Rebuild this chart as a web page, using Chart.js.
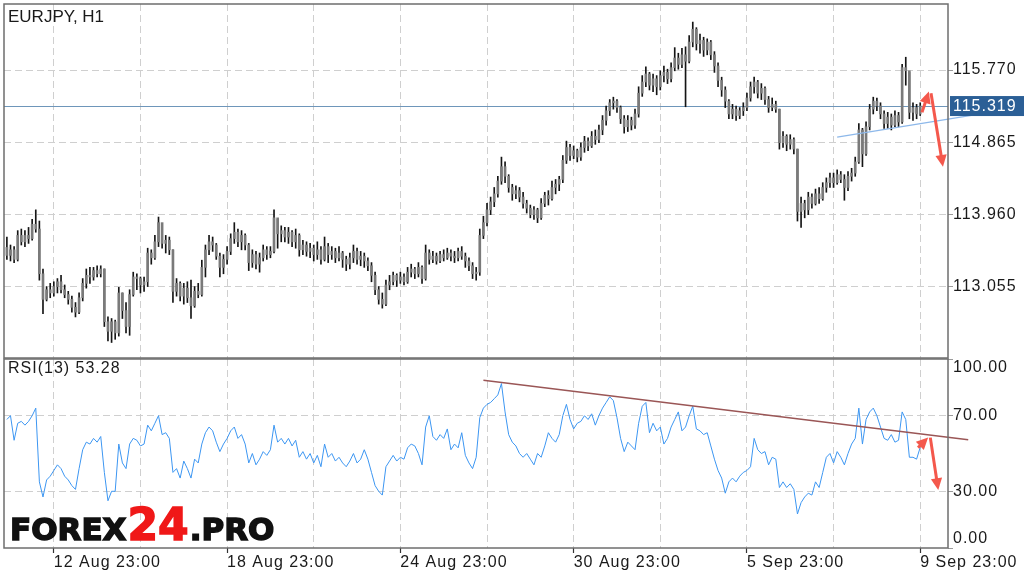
<!DOCTYPE html>
<html>
<head>
<meta charset="utf-8">
<script src="https://cdn.jsdelivr.net/npm/chart.js@4.4.1/dist/chart.umd.min.js"></script>
<style>
  html, body { margin: 0; padding: 0; background: #fff; }
  #wrap { position: relative; width: 1024px; height: 577px; overflow: hidden; }
  .box { position: absolute; left: 0; width: 1024px; }
  #pricebox { top: 0; height: 360px; }
  #rsibox { top: 355px; height: 222px; }
</style>
</head>
<body>
<div id="wrap">
  <div class="box" id="pricebox"><canvas id="price"></canvas></div>
  <div class="box" id="rsibox"><canvas id="rsi"></canvas></div>
</div>
<script>
// ===== EURJPY H1 bars (oldest first) =====
const firstOpen = 113.55;
const closes = [
  113.45, 113.52, 113.40, 113.70, 113.62, 113.70, 113.66, 113.84, 113.78, 113.22,
  112.90, 113.02, 112.98, 113.06, 113.12, 113.02, 112.96, 112.90, 112.80, 112.74,
  112.92, 113.10, 113.20, 113.18, 113.26, 113.22, 113.28, 112.62, 112.50, 112.62,
  112.48, 112.98, 112.76, 112.56, 112.96, 113.18, 113.16, 113.08, 113.12, 113.48,
  113.42, 113.62, 113.86, 113.60, 113.64, 113.52, 113.00, 113.10, 112.94, 113.04,
  112.92, 112.82, 113.00, 112.96, 113.30, 113.52, 113.62, 113.58, 113.44, 113.30,
  113.40, 113.50, 113.66, 113.74, 113.62, 113.70, 113.58, 113.36, 113.46, 113.34,
  113.42, 113.52, 113.46, 113.50, 113.92, 113.72, 113.76, 113.68, 113.74, 113.62,
  113.70, 113.52, 113.58, 113.50, 113.54, 113.46, 113.52, 113.40, 113.56, 113.46,
  113.50, 113.42, 113.48, 113.40, 113.34, 113.42, 113.50, 113.40, 113.44, 113.38,
  113.32, 113.20, 113.02, 112.90, 112.84, 113.08, 113.12, 113.20, 113.14, 113.18,
  113.12, 113.24, 113.28, 113.22, 113.30, 113.16, 113.48, 113.40, 113.44, 113.38,
  113.46, 113.42, 113.48, 113.44, 113.42, 113.50, 113.44, 113.38, 113.32, 113.22,
  113.24, 113.70, 113.86, 114.02, 114.12, 114.22, 114.38, 114.56, 114.44, 114.30,
  114.22, 114.26, 114.18, 114.10, 114.04, 113.96, 114.02, 113.92, 114.10, 114.20,
  114.16, 114.30, 114.34, 114.40, 114.64, 114.80, 114.70, 114.76, 114.68, 114.80,
  114.88, 114.82, 114.94, 114.90, 115.02, 115.14, 115.26, 115.36, 115.38, 115.30,
  115.16, 115.06, 115.14, 115.08, 115.22, 115.48, 115.62, 115.72, 115.58, 115.66,
  115.56, 115.70, 115.74, 115.66, 115.80, 115.92, 115.84, 115.96, 115.88, 116.12,
  116.28, 116.10, 116.14, 116.02, 116.12, 115.96, 115.82, 115.64, 115.52, 115.38,
  115.22, 115.28, 115.20, 115.26, 115.30, 115.42, 115.56, 115.62, 115.48, 115.54,
  115.40, 115.30, 115.34, 115.28, 114.86, 114.94, 114.84, 114.90, 114.78, 114.00,
  114.10, 114.02, 114.18, 114.10, 114.22, 114.16, 114.30, 114.36, 114.42, 114.36,
  114.46, 114.40, 114.30, 114.44, 114.48, 114.62, 115.02, 114.72, 115.06, 115.28,
  115.38, 115.32, 115.22, 115.10, 115.18, 115.08, 115.20, 115.12, 115.80, 115.76,
  115.24, 115.30, 115.22, 115.32
];
const highs = [
  113.68, 113.58, 113.56, 113.76, 113.78, 113.76, 113.80, 113.90, 114.02, 113.88,
  113.28, 113.06, 113.10, 113.12, 113.16, 113.20, 113.08, 113.00, 112.94, 112.86,
  112.98, 113.16, 113.28, 113.30, 113.30, 113.32, 113.32, 113.28, 112.68, 112.66,
  112.64, 113.05, 112.98, 112.86, 113.02, 113.24, 113.22, 113.18, 113.18, 113.54,
  113.52, 113.70, 113.93, 113.84, 113.70, 113.68, 113.52, 113.16, 113.12, 113.10,
  113.12, 113.14, 113.06, 113.10, 113.39, 113.58, 113.70, 113.68, 113.60, 113.48,
  113.46, 113.56, 113.72, 113.86, 113.78, 113.76, 113.72, 113.60, 113.52, 113.50,
  113.48, 113.58, 113.56, 113.56, 114.02, 113.90, 113.82, 113.80, 113.80, 113.76,
  113.78, 113.72, 113.64, 113.62, 113.60, 113.58, 113.62, 113.56, 113.68, 113.60,
  113.56, 113.54, 113.56, 113.50, 113.44, 113.48, 113.58, 113.54, 113.50, 113.48,
  113.42, 113.36, 113.24, 113.06, 112.98, 113.14, 113.20, 113.24, 113.22, 113.24,
  113.22, 113.30, 113.34, 113.30, 113.36, 113.32, 113.58, 113.52, 113.50, 113.48,
  113.50, 113.52, 113.54, 113.52, 113.50, 113.54, 113.56, 113.48, 113.42, 113.36,
  113.30, 113.78, 113.94, 114.10, 114.18, 114.30, 114.44, 114.68, 114.62, 114.46,
  114.34, 114.32, 114.30, 114.24, 114.14, 114.08, 114.06, 114.04, 114.16, 114.24,
  114.26, 114.38, 114.40, 114.44, 114.70, 114.88, 114.84, 114.82, 114.78, 114.86,
  114.94, 114.92, 115.00, 115.02, 115.08, 115.20, 115.32, 115.40, 115.43, 115.40,
  115.32, 115.20, 115.20, 115.18, 115.28, 115.56, 115.70, 115.81, 115.74, 115.72,
  115.70, 115.76, 115.82, 115.78, 115.86, 116.05, 115.98, 116.04, 116.06, 116.20,
  116.37, 116.30, 116.22, 116.18, 116.16, 116.14, 116.00, 115.86, 115.68, 115.56,
  115.40, 115.34, 115.32, 115.30, 115.36, 115.48, 115.62, 115.68, 115.64, 115.60,
  115.56, 115.44, 115.42, 115.38, 115.28, 115.00, 114.96, 114.96, 114.92, 114.78,
  114.18, 114.14, 114.24, 114.22, 114.28, 114.30, 114.36, 114.42, 114.48, 114.48,
  114.52, 114.50, 114.46, 114.50, 114.54, 114.68, 115.10, 115.04, 115.12, 115.34,
  115.43, 115.42, 115.36, 115.26, 115.24, 115.22, 115.26, 115.24, 115.84, 115.93,
  115.74, 115.36, 115.34, 115.36
];
const lows = [
  113.40, 113.38, 113.36, 113.38, 113.58, 113.56, 113.60, 113.64, 113.74, 113.14,
  112.72, 112.88, 112.92, 112.94, 112.98, 112.98, 112.92, 112.84, 112.74, 112.68,
  112.72, 112.88, 113.04, 113.10, 113.14, 113.18, 113.18, 112.56, 112.38, 112.36,
  112.40, 112.44, 112.66, 112.48, 112.45, 112.94, 113.02, 112.98, 113.00, 113.06,
  113.34, 113.40, 113.56, 113.54, 113.48, 113.46, 112.86, 112.94, 112.88, 112.84,
  112.86, 112.66, 112.80, 112.92, 112.94, 113.18, 113.46, 113.50, 113.40, 113.18,
  113.22, 113.34, 113.46, 113.60, 113.56, 113.52, 113.52, 113.26, 113.30, 113.28,
  113.24, 113.38, 113.40, 113.42, 113.48, 113.54, 113.62, 113.62, 113.60, 113.56,
  113.54, 113.44, 113.46, 113.44, 113.42, 113.38, 113.40, 113.34, 113.38, 113.36,
  113.40, 113.36, 113.38, 113.30, 113.26, 113.28, 113.36, 113.34, 113.32, 113.30,
  113.26, 113.12, 112.96, 112.84, 112.79, 112.82, 113.02, 113.08, 113.06, 113.10,
  113.08, 113.10, 113.18, 113.16, 113.18, 113.10, 113.14, 113.34, 113.36, 113.34,
  113.36, 113.38, 113.40, 113.38, 113.36, 113.38, 113.40, 113.30, 113.26, 113.16,
  113.14, 113.20, 113.66, 113.82, 113.96, 114.06, 114.18, 114.34, 114.36, 114.24,
  114.14, 114.16, 114.12, 114.04, 113.98, 113.92, 113.90, 113.86, 113.90, 114.06,
  114.08, 114.14, 114.22, 114.26, 114.36, 114.60, 114.64, 114.66, 114.62, 114.64,
  114.74, 114.76, 114.80, 114.84, 114.86, 114.96, 115.08, 115.20, 115.28, 115.24,
  115.10, 114.98, 115.00, 115.02, 115.04, 115.18, 115.44, 115.56, 115.52, 115.50,
  115.46, 115.52, 115.62, 115.60, 115.62, 115.76, 115.78, 115.80, 115.31, 115.86,
  116.06, 116.02, 115.98, 115.94, 115.96, 115.90, 115.74, 115.56, 115.44, 115.30,
  115.16, 115.16, 115.14, 115.16, 115.20, 115.26, 115.38, 115.48, 115.42, 115.40,
  115.34, 115.24, 115.26, 115.24, 114.78, 114.80, 114.76, 114.78, 114.72, 113.88,
  113.80, 113.92, 113.96, 114.04, 114.08, 114.10, 114.14, 114.24, 114.30, 114.30,
  114.34, 114.36, 114.14, 114.26, 114.38, 114.44, 114.60, 114.56, 114.70, 115.02,
  115.22, 115.26, 115.16, 115.04, 115.04, 115.02, 115.06, 115.06, 115.10, 115.58,
  115.16, 115.14, 115.16, 115.20
];
const rsi13 = [
  68, 70, 57, 66, 67, 65, 67, 70, 74, 35,
  27, 36, 38, 41, 44, 42, 38, 36, 33, 31,
  42, 52, 56, 55, 58, 56, 59, 40, 25, 30,
  30, 55, 45, 42, 55, 58, 57, 54, 55, 65,
  62, 66, 70, 60, 61, 58, 40, 42, 37, 46,
  42, 37, 47, 45, 55, 61, 64, 62, 56, 51,
  55, 58, 62, 64, 58, 60, 55, 45, 50, 44,
  47, 51, 49, 52, 65, 56, 58, 55, 58, 54,
  57, 48, 51, 47, 50, 45, 49, 43, 55, 48,
  50, 46, 48, 45, 43, 46, 50, 45, 47, 52,
  47, 40, 33, 30, 28, 43, 46, 49, 46, 48,
  47, 53, 55, 54, 50, 44, 64, 70, 59, 57,
  60, 58, 63, 52, 55, 53, 61, 49, 45, 42,
  48, 69, 74, 76, 77, 79, 81, 87, 72, 60,
  56, 54, 50, 48, 50, 47, 44, 50, 48, 54,
  61, 58, 56, 60, 70, 76, 68, 63, 66, 67,
  70, 68, 71, 65, 70, 74, 77, 80, 78, 69,
  58, 51, 56, 54, 52, 66, 75, 77, 61, 66,
  62, 64, 55, 58, 64, 68, 72, 62, 64, 70,
  75, 63, 62, 60, 61, 54, 47, 41, 37, 29,
  35, 37, 35, 38, 40, 41, 43, 58, 52, 50,
  51, 44, 48, 47, 32, 35, 32, 34, 31, 18,
  24, 27, 29, 28, 35, 32, 40, 48, 50, 45,
  51, 48, 44, 50, 55, 58, 74, 55, 68, 72,
  74, 70, 64, 58, 57, 60, 56, 57, 72, 68,
  48, 48, 47, 53.28
];

const lastPrice = 115.319;
const priceMin = 112.166, priceMax = 116.596;
const priceTicks = [113.055, 113.960, 114.865, 115.770];
const rsiTicks = [0, 30, 70, 100];
const gridIdx = [13, 37, 61, 85, 109, 133, 157, 181, 205, 229, 253];
const xLabelIdx = [13, 61, 109, 157, 205, 253];
const xLabels = ['12 Aug 23:00', '18 Aug 23:00', '24 Aug 23:00', '30 Aug 23:00', '5 Sep 23:00', '9 Sep 23:00'];
const xMin = -0.8, xMax = 260.7;

// trend lines + arrows, in (bar index, value)
const priceTrend = [{ x: 230, y: 114.93 }, { x: 271, y: 115.23 }];
const rsiTrend = [{ x: 132, y: 88.8 }, { x: 266.3, y: 57.3 }];
const priceArrows = [[253.5, 115.24, 255.4, 115.50], [256, 115.48, 259.3, 114.56]];
const rsiArrows = [[252.4, 53.1, 255.2, 58.4], [255.8, 58.4, 258, 30.7]];

// ===== build datasets =====
const opens = closes.map((c, i) => i === 0 ? firstOpen : closes[i - 1]);
const wickData = closes.map((c, i) => ({ x: i, y: [lows[i], highs[i]] }));
const bodyData = closes.map((c, i) => ({ x: i, y: [opens[i], c] }));
const rsiData = rsi13.map((v, i) => ({ x: i, y: v }));

Chart.defaults.font.family = "'Liberation Sans', Arial, sans-serif";
Chart.defaults.font.size = 16;
Chart.defaults.color = '#1a1a1a';

const gridColor = '#cfcfcf';
const dash = [7, 4];
const frameColor = '#6e6e6e';

function drawArrow(ctx, x1, y1, x2, y2) {
  const a = Math.atan2(y2 - y1, x2 - x1);
  const head = 13;
  ctx.save();
  ctx.strokeStyle = '#f4584c';
  ctx.fillStyle = '#f4584c';
  ctx.lineWidth = 3;
  ctx.beginPath();
  ctx.moveTo(x1, y1);
  ctx.lineTo(x2 - Math.cos(a) * head * 0.7, y2 - Math.sin(a) * head * 0.7);
  ctx.stroke();
  ctx.beginPath();
  ctx.moveTo(x2, y2);
  ctx.lineTo(x2 - head * Math.cos(a - 0.45), y2 - head * Math.sin(a - 0.45));
  ctx.lineTo(x2 - head * Math.cos(a + 0.45), y2 - head * Math.sin(a + 0.45));
  ctx.closePath();
  ctx.fill();
  ctx.restore();
}

function arrowsFor(chart, list) {
  const { x, y } = chart.scales;
  list.forEach(a => drawArrow(chart.ctx,
    x.getPixelForValue(a[0]), y.getPixelForValue(a[1]),
    x.getPixelForValue(a[2]), y.getPixelForValue(a[3])));
}

function drawFrame(chart) {
  const { ctx, chartArea: ca } = chart;
  ctx.save();
  ctx.strokeStyle = frameColor;
  ctx.lineWidth = 1.5;
  ctx.strokeRect(ca.left, ca.top, ca.right - ca.left, ca.bottom - ca.top);
  ctx.restore();
}

// y axes: fixed width, no extra label padding above/below
function fixY(s) {
  s.width = 76;
  s.paddingTop = 0;
  s.paddingBottom = 0;
}

const pricePanel = {
  id: 'pricePanel',
  beforeDraw(chart) { chart.ctx.letterSpacing = '1px'; },
  beforeDatasetsDraw(chart) {
    const { ctx, chartArea: ca, scales } = chart;
    const py = Math.round(scales.y.getPixelForValue(lastPrice)) + 0.5;
    ctx.save();
    ctx.strokeStyle = '#6e96ba';
    ctx.lineWidth = 1;
    ctx.beginPath();
    ctx.moveTo(ca.left, py);
    ctx.lineTo(ca.right, py);
    ctx.stroke();
    ctx.restore();
  },
  afterDatasetsDraw(chart) {
    drawFrame(chart);
    arrowsFor(chart, priceArrows);
  },
  afterDraw(chart) {
    const { ctx, chartArea: ca, scales } = chart;
    const py = scales.y.getPixelForValue(lastPrice);
    ctx.save();
    ctx.fillStyle = '#2b5f96';
    ctx.fillRect(ca.right + 2, py - 10, chart.width - ca.right - 2, 20);
    ctx.fillStyle = '#fff';
    ctx.font = "16px 'Liberation Sans', Arial, sans-serif";
    ctx.textBaseline = 'middle';
    ctx.letterSpacing = '1px';
    ctx.fillText(lastPrice.toFixed(3), ca.right + 5, py + 1);
    ctx.letterSpacing = '0px';
    ctx.fillStyle = '#1a1a1a';
    ctx.font = "17px 'Liberation Sans', Arial, sans-serif";
    ctx.fillText('EURJPY, H1', 8, 17);
    ctx.restore();
  }
};

const rsiPanel = {
  id: 'rsiPanel',
  beforeDraw(chart) { chart.ctx.letterSpacing = '1px'; },
  afterDatasetsDraw(chart) {
    const { ctx, chartArea: ca, scales } = chart;
    drawFrame(chart);
    arrowsFor(chart, rsiArrows);
    ctx.save();
    ctx.fillStyle = '#1a1a1a';
    ctx.font = "16px 'Liberation Sans', Arial, sans-serif";
    ctx.textBaseline = 'middle';
    ctx.letterSpacing = '1px';
    ctx.fillText('100.00', ca.right + 5, scales.y.getPixelForValue(100) + 9);
    ctx.fillText('0.00', ca.right + 5, scales.y.getPixelForValue(0) - 9);
    ctx.fillText('RSI(13) ' + rsi13[rsi13.length - 1].toFixed(2), 8, ca.top + 10);
    // watermark
    ctx.letterSpacing = '0px';
    ctx.textBaseline = 'alphabetic';
    const base = 185;
    let wx = 10;
    ctx.lineWidth = 1.5;
    ctx.font = "bold 31px 'DejaVu Sans', sans-serif";
    ctx.fillStyle = ctx.strokeStyle = '#111';
    ctx.fillText('FOREX', wx, base); ctx.strokeText('FOREX', wx, base);
    wx += ctx.measureText('FOREX').width + 1;
    ctx.font = "bold 44px 'DejaVu Sans', sans-serif";
    ctx.fillStyle = ctx.strokeStyle = '#f01818';
    ctx.fillText('24', wx, base); ctx.strokeText('24', wx, base);
    wx += ctx.measureText('24').width + 1;
    ctx.font = "bold 31px 'DejaVu Sans', sans-serif";
    ctx.fillStyle = ctx.strokeStyle = '#111';
    ctx.fillText('.PRO', wx, base); ctx.strokeText('.PRO', wx, base);
    ctx.restore();
  }
};

// ===== price panel =====
new Chart(document.getElementById('price'), {
  type: 'bar',
  data: {
    datasets: [
      { type: 'line', label: 'trend', data: priceTrend, borderColor: '#8db8ea', borderWidth: 1.2,
        pointRadius: 0, clip: false, order: 0 },
      { label: 'body', data: bodyData, backgroundColor: '#7a7a7a', barThickness: 2, grouped: false, order: 1 },
      { label: 'wick', data: wickData, backgroundColor: '#151515', barThickness: 1, grouped: false, order: 2 }
    ]
  },
  options: {
    responsive: true,
    maintainAspectRatio: false,
    animation: false,
    layout: { padding: { left: 4, top: 4, right: 0, bottom: 0 } },
    plugins: { legend: { display: false }, tooltip: { enabled: false } },
    scales: {
      x: {
        type: 'linear', min: xMin, max: xMax, offset: false,
        grid: { offset: false, color: gridColor, drawTicks: false },
        border: { display: false, dash: dash },
        ticks: { display: false },
        afterBuildTicks: s => { s.ticks = gridIdx.map(v => ({ value: v })); },
        afterFit: s => { s.height = 2; s.paddingLeft = 0; s.paddingRight = 0; }
      },
      y: {
        position: 'right', min: priceMin, max: priceMax,
        grid: { color: gridColor, tickLength: 5, tickColor: '#9a9a9a', tickBorderDash: [] },
        border: { display: false, dash: dash },
        ticks: { padding: 0, callback: v => v.toFixed(3) },
        afterBuildTicks: s => { s.ticks = priceTicks.map(v => ({ value: v })); },
        afterFit: fixY
      }
    }
  },
  plugins: [pricePanel]
});

// ===== RSI panel =====
new Chart(document.getElementById('rsi'), {
  type: 'line',
  data: {
    datasets: [
      { label: 'trend', data: rsiTrend, borderColor: '#9a5656', borderWidth: 1.5,
        pointRadius: 0, clip: false, order: 0 },
      { label: 'RSI(13)', data: rsiData, borderColor: '#3c96f2', borderWidth: 1,
        pointRadius: 0, tension: 0, order: 1 }
    ]
  },
  options: {
    responsive: true,
    maintainAspectRatio: false,
    animation: false,
    layout: { padding: { left: 4, top: 4, right: 0, bottom: 0 } },
    plugins: { legend: { display: false }, tooltip: { enabled: false } },
    scales: {
      x: {
        type: 'linear', min: xMin, max: xMax, offset: false,
        grid: {
          offset: false, color: gridColor, tickLength: 5, tickWidth: 1.2, tickBorderDash: [],
          tickColor: c => (c.tick && xLabelIdx.includes(c.tick.value)) ? '#333' : 'rgba(0,0,0,0)'
        },
        border: { display: false, dash: dash },
        ticks: {
          autoSkip: false, maxRotation: 0, align: 'start', padding: 0,
          callback: v => { const k = xLabelIdx.indexOf(v); return k >= 0 ? xLabels[k] : ''; }
        },
        afterBuildTicks: s => { s.ticks = gridIdx.map(v => ({ value: v })); },
        afterFit: s => { s.height = 29; s.paddingLeft = 0; s.paddingRight = 0; }
      },
      y: {
        position: 'right', min: 0, max: 100,
        grid: {
          color: c => (c.tick && (c.tick.value === 0 || c.tick.value === 100)) ? 'rgba(0,0,0,0)' : gridColor,
          tickLength: 5, tickColor: '#9a9a9a', tickBorderDash: []
        },
        border: { display: false, dash: dash },
        ticks: { padding: 0, callback: v => (v === 0 || v === 100) ? '' : v.toFixed(2) },
        afterBuildTicks: s => { s.ticks = rsiTicks.map(v => ({ value: v })); },
        afterFit: fixY
      }
    }
  },
  plugins: [rsiPanel]
});
</script>
</body>
</html>
